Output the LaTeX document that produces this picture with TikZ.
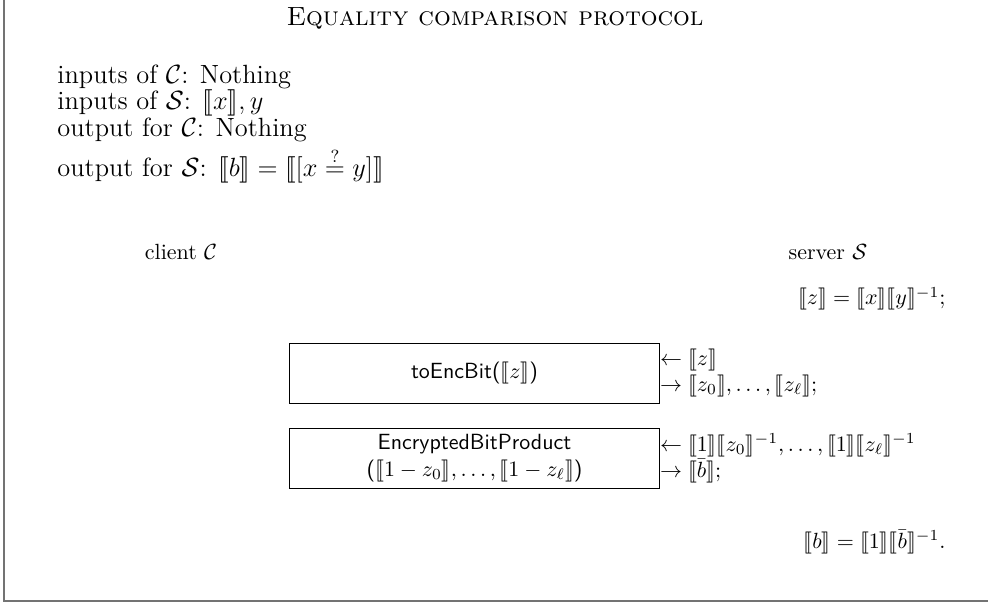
\documentclass[tikz,border=0pt]{standalone}
\usepackage{amsmath,amssymb}
\usepackage{stmaryrd}
\usepackage{tikz}
\usetikzlibrary{positioning, calc}
\newcommand{\enc}[1]{\llbracket #1\rrbracket}
\tikzset{
  subproto/.style={
    rectangle, draw, thin, minimum width=168pt,
    align=center, font=\sffamily, inner sep=3pt
  },
  iline/.style={anchor=base west, inner sep=0pt, font=\large},
  msg/.style={anchor=west, align=left, inner sep=0pt},
  party/.style={anchor=base, inner sep=0pt},
  srvstep/.style={anchor=base east, inner sep=0pt}
}

\begin{document}
\begin{tikzpicture}[x=0.455pt, y=-0.455pt]
        \useasboundingbox (0,0) rectangle (988,604);
        \draw[black!55, line width=0.8pt] (4,0) -- (4,601) -- (988,601);
        \node[anchor=base] (title) at (495,26)
          {\large\textsc{Equality comparison protocol}};
        % inputs and outputs
        \node[iline] (inc) at (57,84) {inputs of $\mathcal{C}$: Nothing};
        \node[iline] (ins) at (57,110) {inputs of $\mathcal{S}$: $\enc{x}, y$};
        \node[iline] (outc) at (57,137) {output for $\mathcal{C}$: Nothing};
        \node[iline] (outs) at (57,177)
          {output for $\mathcal{S}$: $\enc{b} = \enc{[x \overset{?}{=} y]}$};
        % parties
        \node[party] (cli) at (181,260) {client $\mathcal{C}$};
        \node[party] (srv) at (828,260) {server $\mathcal{S}$};
        \node[srvstep] (zdef) at (946,305) {$\enc{z} = \enc{x}\enc{y}^{-1}$;};
        % sub-protocols
        \node[subproto, minimum height=27.3pt] (teb) at (474.5,373)
          {toEncBit($\enc{z}$)};
        \node[subproto, below=11pt of teb] (ebp)
          {EncryptedBitProduct\\($\enc{1-z_0}, \dots, \enc{1-z_\ell}$)};
        \node[msg] (tebmsg) at (teb.east)
          {$\leftarrow \enc{z}$\\$\rightarrow \enc{z_0}, \dots, \enc{z_\ell}$;};
        \node[msg] (ebpmsg) at (ebp.east)
          {$\leftarrow \enc{1}\enc{z_0}^{-1}, \dots, \enc{1}\enc{z_\ell}^{-1}$\\
           $\rightarrow \enc{\bar{b}}$;};
        \node[srvstep] (bdef) at (946,548) {$\enc{b} = \enc{1}\enc{\bar{b}}^{-1}$.};
\end{tikzpicture}
\end{document}
